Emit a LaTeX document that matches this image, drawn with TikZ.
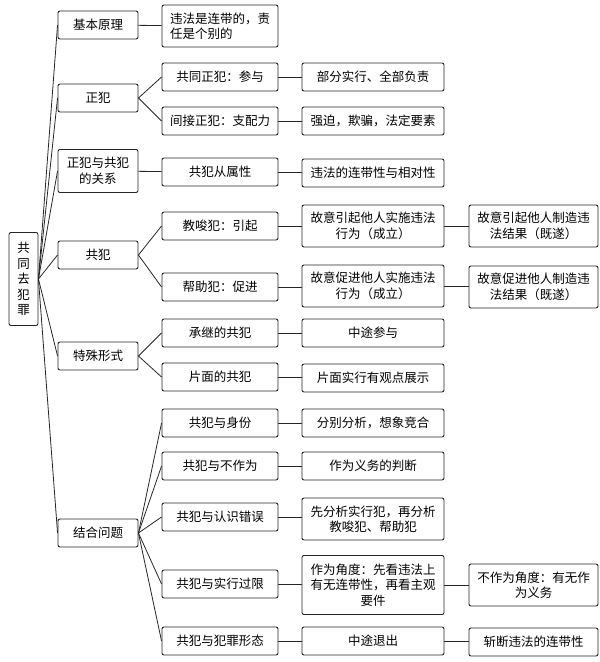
\documentclass[tikz,border=0pt]{standalone}
\usepackage{fontspec}
\setmainfont{Noto Sans CJK SC}
\begin{document}
\begin{tikzpicture}[x=1pt,y=-1pt,
  box/.style={draw=black!85,line width=0.9pt,rounded corners=2pt,inner sep=1pt,align=center,font=\fontsize{12.5}{15.5}\selectfont},
  c1/.style={box,minimum width=80pt},
  c2/.style={box,minimum width=116pt},
  c3/.style={box,minimum width=142pt},
  c4/.style={box,minimum width=129pt},
  ln/.style={draw=black!85,line width=0.8pt}]
\useasboundingbox (0,0) rectangle (600,662);
\node[box,minimum width=29pt,minimum height=93pt] (r) at (23.5,279) {共\\同\\去\\犯\\罪};
% column 1
\node[c1,minimum height=28pt] (a1) at (98,25) {基本原理};
\node[c1,minimum height=28pt] (a2) at (98,98) {正犯};
\node[c1,minimum height=43pt] (a3) at (98,171) {正犯与共犯\\的关系};
\node[c1,minimum height=28pt] (a4) at (98,255) {共犯};
\node[c1,minimum height=28pt] (a5) at (98,356) {特殊形式};
\node[c1,minimum height=28pt] (a6) at (98,533) {结合问题};
% column 2
\node[c2,minimum height=42pt,align=left] (b1) at (220,26) {违法是连带的，责\\任是个别的};
\node[c2,minimum height=28pt] (b2) at (220,77) {共同正犯：参与};
\node[c2,minimum height=28pt] (b3) at (220,121) {间接正犯：支配力};
\node[c2,minimum height=28pt] (b4) at (220,172) {共犯从属性};
\node[c2,minimum height=28pt] (b5) at (220,226) {教唆犯：引起};
\node[c2,minimum height=28pt] (b6) at (220,287) {帮助犯：促进};
\node[c2,minimum height=28pt] (b7) at (220,333) {承继的共犯};
\node[c2,minimum height=28pt] (b8) at (220,377) {片面的共犯};
\node[c2,minimum height=28pt] (b9) at (220,423) {共犯与身份};
\node[c2,minimum height=28pt] (b10) at (220,466) {共犯与不作为};
\node[c2,minimum height=28pt] (b11) at (220,517) {共犯与认识错误};
\node[c2,minimum height=28pt] (b12) at (220,584) {共犯与实行过限};
\node[c2,minimum height=28pt] (b13) at (220,641) {共犯与犯罪形态};
% column 3
\node[c3,minimum height=28pt] (d2) at (373,77) {部分实行、全部负责};
\node[c3,minimum height=28pt] (d3) at (373,121) {强迫，欺骗，法定要素};
\node[c3,minimum height=28pt] (d4) at (373,173) {违法的连带性与相对性};
\node[c3,minimum height=42pt] (d5) at (373,226) {故意引起他人实施违法\\行为（成立）};
\node[c3,minimum height=42pt] (d6) at (373,286) {故意促进他人实施违法\\行为（成立）};
\node[c3,minimum height=28pt] (d7) at (373,333) {中途参与};
\node[c3,minimum height=28pt] (d8) at (373,378) {片面实行有观点展示};
\node[c3,minimum height=28pt] (d9) at (373,423) {分别分析，想象竞合};
\node[c3,minimum height=28pt] (d10) at (373,466) {作为义务的判断};
\node[c3,minimum height=42pt] (d11) at (373,519) {先分析实行犯，再分析\\教唆犯、帮助犯};
\node[c3,minimum height=59pt] (d12) at (373,585) {作为角度：先看违法上\\有无连带性，再看主观\\要件};
\node[c3,minimum height=28pt] (d13) at (373,641) {中途退出};
% column 4
\node[c4,minimum height=42pt] (e5) at (533.5,226) {故意引起他人制造违\\法结果（既遂）};
\node[c4,minimum height=42pt] (e6) at (533.5,287) {故意促进他人制造违\\法结果（既遂）};
\node[c4,minimum height=42pt] (e12) at (533.5,585) {不作为角度：有无作\\为义务};
\node[c4,minimum height=28pt] (e13) at (533.5,642) {斩断违法的连带性};
% connectors
\foreach \a in {a1,a2,a3,a4,a5,a6} \draw[ln] (r.east) -- (\a.west);
\draw[ln] (a1) -- (b1);
\foreach \b in {b2,b3} \draw[ln] (a2.east) -- (\b.west);
\draw[ln] (a3) -- (b4);
\foreach \b in {b5,b6} \draw[ln] (a4.east) -- (\b.west);
\foreach \b in {b7,b8} \draw[ln] (a5.east) -- (\b.west);
\foreach \b in {b9,b10,b11,b12,b13} \draw[ln] (a6.east) -- (\b.west);
\foreach \i in {2,...,13} \draw[ln] (b\i.east) -- (d\i.west |- b\i.east);
\draw[ln] (d5.east) -- (e5.west |- d5.east);
\draw[ln] (d6.east) -- (e6.west |- d6.east);
\draw[ln] (d12.east) -- (e12.west |- d12.east);
\draw[ln] (d13.east) -- (e13.west |- d13.east);
\end{tikzpicture}
\end{document}
